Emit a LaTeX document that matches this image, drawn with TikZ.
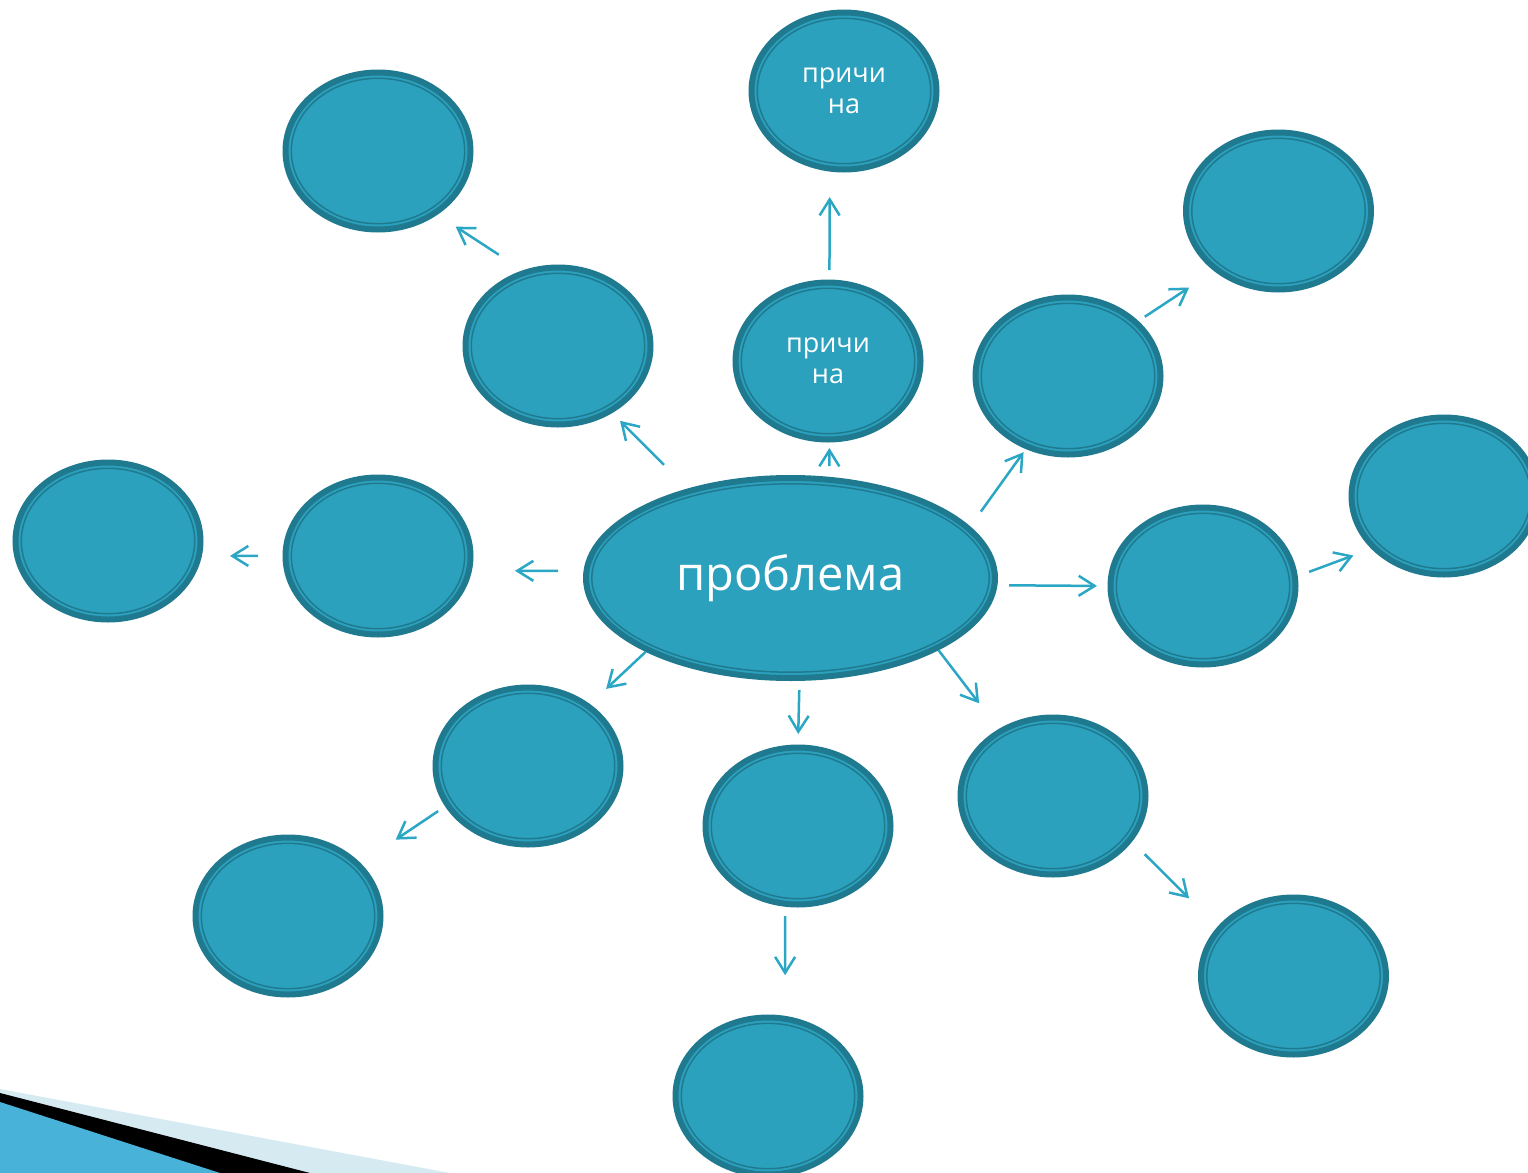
\documentclass[tikz,border=0pt]{standalone}
\usepackage{fontspec}
\setmainfont{Open Sans}
\usetikzlibrary{arrows.meta, shapes.geometric}
\definecolor{bubfill}{RGB}{44,161,190}
\definecolor{bubedge}{RGB}{31,122,143}
\definecolor{arrowc}{RGB}{43,166,196}
\definecolor{palebg}{RGB}{214,234,242}
\definecolor{stripebg}{RGB}{72,178,216}

\tikzset{
  bub/.style={ellipse, draw=bubedge, fill=bubfill, line width=3pt, minimum width=92.5pt, minimum height=78.5pt,
    inner sep=0pt, text=white, align=center, font=\fontsize{13.5}{15.5}\selectfont,
    path picture={\draw[bubedge, line width=0.75pt] (path picture bounding box.center) ellipse
      [x radius=\pgfkeysvalueof{/pgf/minimum width}/2-2.9pt, y radius=\pgfkeysvalueof{/pgf/minimum height}/2-2.9pt];}},
  arr/.style={draw=arrowc, line width=1.25pt, -{Straight Barb[length=8pt, width=10pt]}}
}

\begin{document}
\begin{tikzpicture}[x=0.5pt, y=-0.5pt]
  \path[use as bounding box] (0,0) rectangle (1528,1173);

  % corner band
  \fill[palebg] (0,1089) -- (450,1173) -- (0,1173) -- cycle;
  \fill[black] (0,1093) -- (310,1173) -- (0,1173) -- cycle;
  \fill[stripebg] (0,1102) -- (220,1173) -- (0,1173) -- cycle;

  % Problem
  \node[bub, minimum width=204.5pt, minimum height=100pt, font=\fontsize{23.5}{28}\selectfont] (prob) at (790.5,578) {проблема};

  % Causes
  \node[bub] (why1) at (828,361) {причи\\на};
  \node[bub] (why2) at (844,91) {причи\\на};

  % Empty bubbles
  \node[bub] (ul1) at (558,346) {};
  \node[bub] (ul2) at (378,151) {};
  \node[bub] (ur1) at (1068,376) {};
  \node[bub] (ur2) at (1278.5,211) {};
  \node[bub] (rt1) at (1203,586) {};
  \node[bub] (rt2) at (1444,496) {};
  \node[bub] (lt1) at (378,556) {};
  \node[bub] (lt2) at (108,541) {};
  \node[bub] (dl1) at (528,766) {};
  \node[bub] (dl2) at (288,916) {};
  \node[bub] (dn1) at (798,826) {};
  \node[bub] (dn2) at (768,1096) {};
  \node[bub] (dr1) at (1053,796) {};
  \node[bub] (dr2) at (1293.5,976) {};

  % Arrows
  \draw[arr, shorten <=16.7pt, shorten >=5.5pt] (prob.139.45) -- (ul1.-51);
  \draw[arr, shorten <=14.25pt, shorten >=10.85pt] (ul1.115.6) -- (ul2.-47.5);
  \draw[arr, shorten <=5.4pt, shorten >=2.75pt] (prob.69.17) -- (why1.-89.3);
  \draw[arr, shorten <=4.75pt, shorten >=12.75pt] (why1.89.3) -- (why2.-100.55);
  \draw[arr, shorten <=9.15pt, shorten >=1.9pt] (prob.16.75) -- (ur1.-120.3);
  \draw[arr, shorten <=3.8pt, shorten >=14.9pt] (ur1.38.7) -- (ur2.-137.5);
  \draw[arr, shorten <=5.8pt, shorten >=5.25pt] (prob.-2.2) -- (rt1.180);
  \draw[arr, shorten <=6.05pt, shorten >=9.55pt] (rt1.6.55) -- (rt2.-144.3);
  \draw[arr, shorten <=12.75pt, shorten >=21.55pt] (prob.178.06) -- (lt1.-9.08);
  \draw[arr, shorten <=12.25pt, shorten >=14.05pt] (lt1.180) -- (lt2.-9.08);
  \draw[arr, shorten >=11.05pt] (prob.-153.5) -- (dl1.45.8);
  \draw[arr, shorten <=4.2pt, shorten >=21.1pt] (dl1.-154) -- (dl2.36.98);
  \draw[arr, shorten <=4.5pt, shorten >=5.25pt] (prob.-85.83) -- (dn1.90);
  \draw[arr, shorten <=4.7pt, shorten >=20.3pt] (dn1.-99.85) -- (dn2.78.74);
  \draw[arr, shorten >=16.15pt] (prob.-26.5) -- (dr1.129.67);
  \draw[arr, shorten <=8.9pt, shorten >=20.05pt] (dr1.-30.6) -- (dr2.147.6);
\end{tikzpicture}
\end{document}
